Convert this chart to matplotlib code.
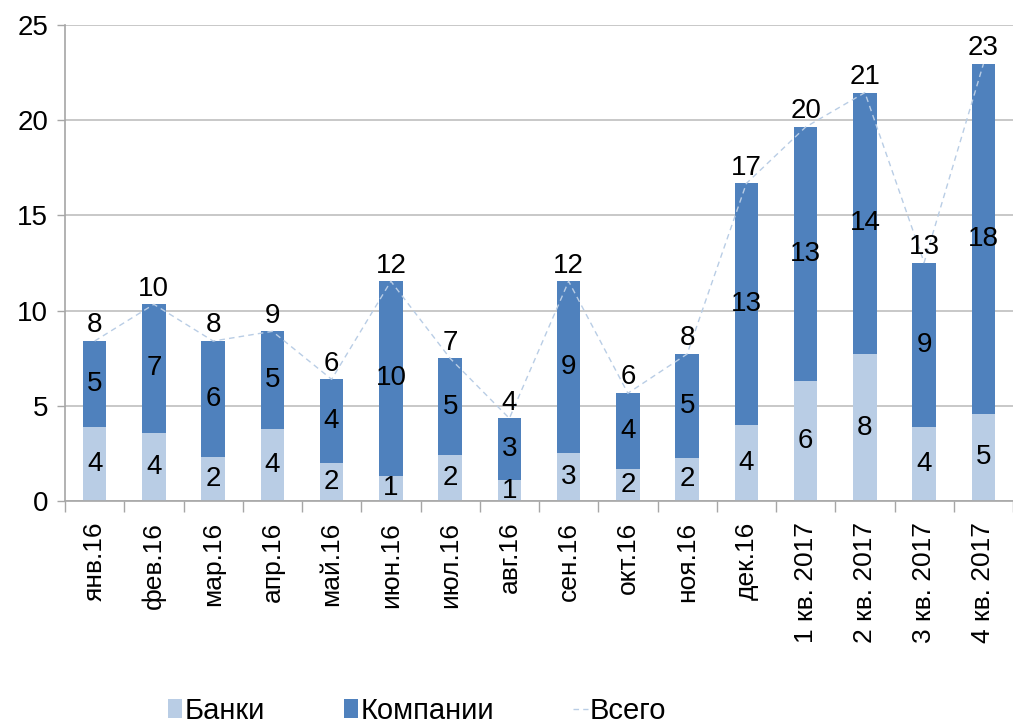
import matplotlib
matplotlib.use('Agg')
import matplotlib.pyplot as plt
import numpy as np

plt.rcParams['font.family'] = ['Liberation Sans', 'DejaVu Sans']

# data
months = ['янв.16', 'фев.16', 'мар.16', 'апр.16', 'май.16', 'июн.16', 'июл.16', 'авг.16',
          'сен.16', 'окт.16', 'ноя.16', 'дек.16', '1 кв. 2017', '2 кв. 2017', '3 кв. 2017', '4 кв. 2017']
banks = [3.89, 3.59, 2.31, 3.77, 2.00, 1.33, 2.40, 1.10, 2.52, 1.68, 2.26, 3.97, 6.30, 7.72, 3.87, 4.57]
companies = [4.51, 6.74, 6.09, 5.14, 4.39, 10.21, 5.09, 3.24, 9.02, 3.98, 5.46, 12.71, 13.34, 13.73, 8.65, 18.38]
total = [b + c for b, c in zip(banks, companies)]

c_banks = '#B9CDE5'
c_comp = '#4F81BD'
c_line = '#B9CDE5'

fig = plt.figure(figsize=(10.13, 7.28), dpi=100)
ax = fig.add_axes([65 / 1013, 227 / 728, 948 / 1013, 476 / 728])

x = np.arange(len(months))
w = 0.4
b1 = ax.bar(x, banks, w, color=c_banks, label='Банки', zorder=2)
b2 = ax.bar(x, companies, w, bottom=banks, color=c_comp, label='Компании', zorder=2)
l1, = ax.plot(x, total, color=c_line, lw=1, ls=(0, (4, 3)), label='Всего', zorder=3)

# data labels
for i in range(len(months)):
    ax.text(x[i], banks[i] / 2, str(int(round(banks[i]))), ha='center', va='center', fontsize=20, zorder=4)
    ax.text(x[i], banks[i] + companies[i] / 2, str(int(round(companies[i]))), ha='center', va='center',
            fontsize=20, zorder=4)
    ax.annotate(str(int(round(total[i]))), (x[i], total[i]), xytext=(0, 2), textcoords='offset points',
                ha='center', va='bottom', fontsize=20, zorder=4)

ax.set_ylim(0, 25)
ax.set_xlim(-0.5, -0.5 + 948 / 59.9)
ax.set_yticks(range(0, 26, 5))
ax.yaxis.grid(True, color='#BFBFBF', lw=1.2, zorder=0)
ax.set_axisbelow(True)

ax.set_xticks(x)
ax.set_xticklabels(months, rotation=90, fontsize=19)
ax.set_xticks(np.arange(-0.5, len(months), 1), minor=True)
ax.tick_params(axis='x', which='major', length=0, pad=15)
ax.tick_params(axis='x', which='minor', length=8, color='#A6A6A6', width=1)
ax.tick_params(axis='y', length=6, color='#A6A6A6', width=1, labelsize=20, pad=6)

for s in ['top', 'right']:
    ax.spines[s].set_visible(False)
ax.spines['left'].set_color('#A6A6A6')
ax.spines['bottom'].set_color('#A6A6A6')
ax.spines['left'].set_linewidth(1.2)
ax.spines['bottom'].set_linewidth(1.2)

fig.legend([b1, b2, l1], ['Банки', 'Компании', 'Всего'], loc='center', bbox_to_anchor=(417 / 1013, 17 / 728),
           ncol=3, frameon=False, fontsize=21,
           handlelength=0.5, handletextpad=0.08, columnspacing=2.7, handleheight=0.65)

fig.savefig('out.png', dpi=100)
